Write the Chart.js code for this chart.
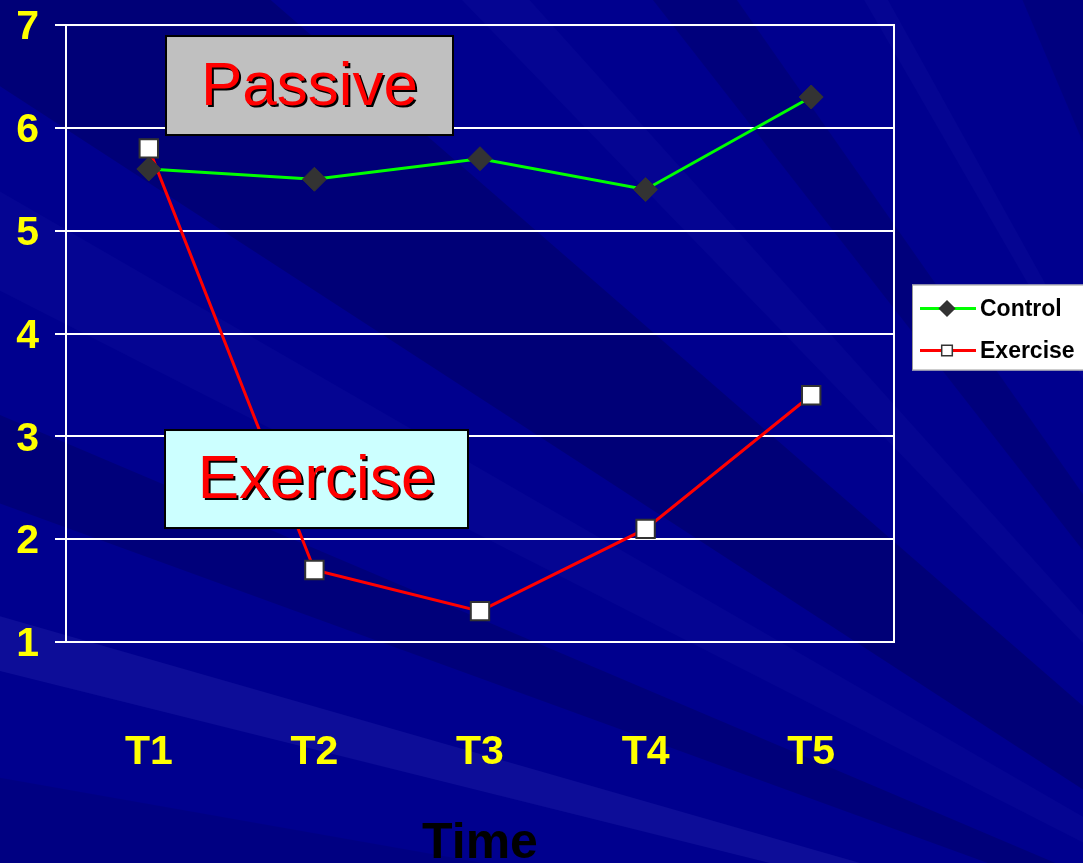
<!DOCTYPE html>
<html>
<head>
<meta charset="utf-8">
<title>Passive vs Exercise</title>
<script src="https://cdn.jsdelivr.net/npm/chart.js@4/dist/chart.umd.min.js"></script>
<style>
  html, body { margin: 0; padding: 0; background: #00008c; overflow: hidden; }
</style>
</head>
<body>
<canvas id="myChart" width="1083" height="863"></canvas>
<script>
'use strict';

//////////////////////
// data
//////////////////////

const timeLabels = ['T1', 'T2', 'T3', 'T4', 'T5'];
const controlValues = [5.6, 5.5, 5.7, 5.4, 6.3];
const exerciseValues = [5.8, 1.7, 1.3, 2.1, 3.4];
const yTicks = [1, 2, 3, 4, 5, 6, 7];
const seriesNames = ['Control', 'Exercise'];
const boxLabels = ['Passive', 'Exercise'];
const axisTitle = 'Time';

const NARROW = "'Liberation Sans Narrow', 'Arial Narrow', 'Liberation Sans', Arial, sans-serif";
const SANS = "'Liberation Sans', Arial, sans-serif";
// y labels: small lineHeight so the axis does not push the plot down
const yTickFont = { family: NARROW, size: 41, weight: 'bold', lineHeight: 0.44 };
const xTickFont = { family: NARROW, size: 41, weight: 'bold', lineHeight: 1.1 };

//////////////////////
// plugins
//////////////////////

// dark blue slide background with faint rays fanning from the lower right
const backgroundRays = {
  id: 'backgroundRays',
  beforeDraw(chart) {
    const { ctx, width, height } = chart;
    ctx.save();
    ctx.fillStyle = '#00008e';
    ctx.fillRect(0, 0, width, height);
    const ox = width * 1.35;
    const oy = height * 1.2;
    const rays = [
      [-176, -170, 'rgba(0,0,0,0.08)'],
      [-166, -164, 'rgba(140,140,255,0.09)'],
      [-160, -157, 'rgba(0,0,0,0.14)'],
      [-153, -150, 'rgba(140,140,255,0.04)'],
      [-147, -139, 'rgba(0,0,0,0.16)'],
      [-134, -132, 'rgba(140,140,255,0.04)'],
      [-128, -125, 'rgba(0,0,0,0.12)'],
      [-120, -119, 'rgba(140,140,255,0.04)'],
      [-113, -109, 'rgba(0,0,0,0.10)'],
      [-104, -103, 'rgba(140,140,255,0.03)']
    ];
    const r = 3000;
    for (const [a0, a1, col] of rays) {
      const t0 = a0 * Math.PI / 180;
      const t1 = a1 * Math.PI / 180;
      ctx.beginPath();
      ctx.moveTo(ox, oy);
      ctx.lineTo(ox + r * Math.cos(t0), oy + r * Math.sin(t0));
      ctx.lineTo(ox + r * Math.cos(t1), oy + r * Math.sin(t1));
      ctx.closePath();
      ctx.fillStyle = col;
      ctx.fill();
    }
    ctx.restore();
  }
};

function drawLabelBox(ctx, text, x, y, w, h, fill) {
  ctx.fillStyle = fill;
  ctx.fillRect(x, y, w, h);
  ctx.strokeStyle = '#000000';
  ctx.lineWidth = 2;
  ctx.strokeRect(x, y, w, h);
  ctx.font = '62px ' + SANS;
  ctx.textAlign = 'center';
  ctx.textBaseline = 'middle';
  const cx = x + w / 2;
  const cy = y + h / 2 + 2;
  ctx.fillStyle = '#000000';
  ctx.fillText(text, cx + 2, cy + 2);
  ctx.fillStyle = '#ff0000';
  ctx.fillText(text, cx, cy);
}

// white frame round the plot and the two captions
const frameAndBoxes = {
  id: 'frameAndBoxes',
  afterDatasetsDraw(chart) {
    const { ctx, chartArea: a } = chart;
    ctx.save();
    ctx.strokeStyle = '#ffffff';
    ctx.lineWidth = 2;
    ctx.strokeRect(a.left, a.top, a.right - a.left, a.bottom - a.top);
    drawLabelBox(ctx, boxLabels[0], a.left + 100, a.top + 11, 287, 99, '#c0c0c0');
    drawLabelBox(ctx, boxLabels[1], a.left + 99, a.top + 405, 303, 98, '#ccffff');
    ctx.restore();
  }
};

// legend box on the right: line + marker + name
const sideLegend = {
  id: 'sideLegend',
  afterDraw(chart) {
    const { ctx, chartArea: a, width } = chart;
    const x0 = a.right + 18;
    const y0 = (a.top + a.bottom) / 2 - 49;
    ctx.save();
    ctx.fillStyle = '#ffffff';
    ctx.fillRect(x0, y0, width - x0 + 2, 86);
    ctx.strokeStyle = '#999999';
    ctx.lineWidth = 1;
    ctx.strokeRect(x0 + 0.5, y0 + 0.5, width - x0 + 2, 85);
    chart.data.datasets.forEach((ds, i) => {
      const y = y0 + 24 + i * 42;
      ctx.strokeStyle = ds.borderColor;
      ctx.lineWidth = 3;
      ctx.beginPath();
      ctx.moveTo(x0 + 8, y);
      ctx.lineTo(x0 + 64, y);
      ctx.stroke();
      ctx.fillStyle = ds.pointBackgroundColor;
      ctx.strokeStyle = ds.pointBorderColor;
      ctx.lineWidth = 1.5;
      Chart.helpers.drawPoint(ctx, {
        pointStyle: ds.pointStyle,
        radius: 7.5,
        borderWidth: 1.5,
        rotation: 0
      }, x0 + 35, y);
      ctx.fillStyle = '#000000';
      ctx.font = 'bold 23px ' + NARROW;
      ctx.textAlign = 'left';
      ctx.textBaseline = 'middle';
      ctx.fillText(ds.label, x0 + 68, y + 1);
    });
    ctx.restore();
  }
};

//////////////////////
// chart
//////////////////////

const data = {
  labels: timeLabels,
  datasets: [{
    label: seriesNames[0],
    data: controlValues,
    borderColor: '#00ff00',
    borderWidth: 3,
    pointStyle: 'rectRot',
    pointRadius: 12,
    pointBackgroundColor: '#333333',
    pointBorderColor: '#333333',
    pointBorderWidth: 1,
    tension: 0
  },
  {
    label: seriesNames[1],
    data: exerciseValues,
    borderColor: '#ff0000',
    borderWidth: 3,
    pointStyle: 'rect',
    pointRadius: 13,
    pointBackgroundColor: '#ffffff',
    pointBorderColor: '#333333',
    pointBorderWidth: 2,
    tension: 0
  }]
};

const config = {
  type: 'line',
  data: data,
  options: {
    responsive: false,
    animation: false,
    layout: { padding: { left: 0, right: 189, top: 0, bottom: 0 } },
    plugins: {
      legend: { display: false },
      tooltip: { enabled: false }
    },
    scales: {
      x: {
        offset: true,
        grid: { display: false, drawTicks: false },
        border: { display: false },
        ticks: { color: '#ffff00', font: xTickFont, padding: 88 },
        title: {
          display: true,
          text: axisTitle,
          color: '#000000',
          font: { family: NARROW, size: 50, weight: 'bold', lineHeight: 0.6 },
          padding: { top: 0, bottom: 4 }
        },
        afterFit(scale) { scale.height = 221; }
      },
      y: {
        min: 1,
        max: 7,
        afterBuildTicks(scale) { scale.ticks = yTicks.map(v => ({ value: v })); },
        grid: { color: '#ffffff', lineWidth: 2, tickLength: 11 },
        border: { display: false },
        ticks: { color: '#ffff00', font: yTickFont, padding: 16, labelOffset: 3 },
        afterFit(scale) { scale.width = 66; }
      }
    }
  },
  plugins: [backgroundRays, frameAndBoxes, sideLegend]
};

const canvasChart = document.getElementById('myChart');
const myChart = new Chart(canvasChart, config);
</script>
</body>
</html>
